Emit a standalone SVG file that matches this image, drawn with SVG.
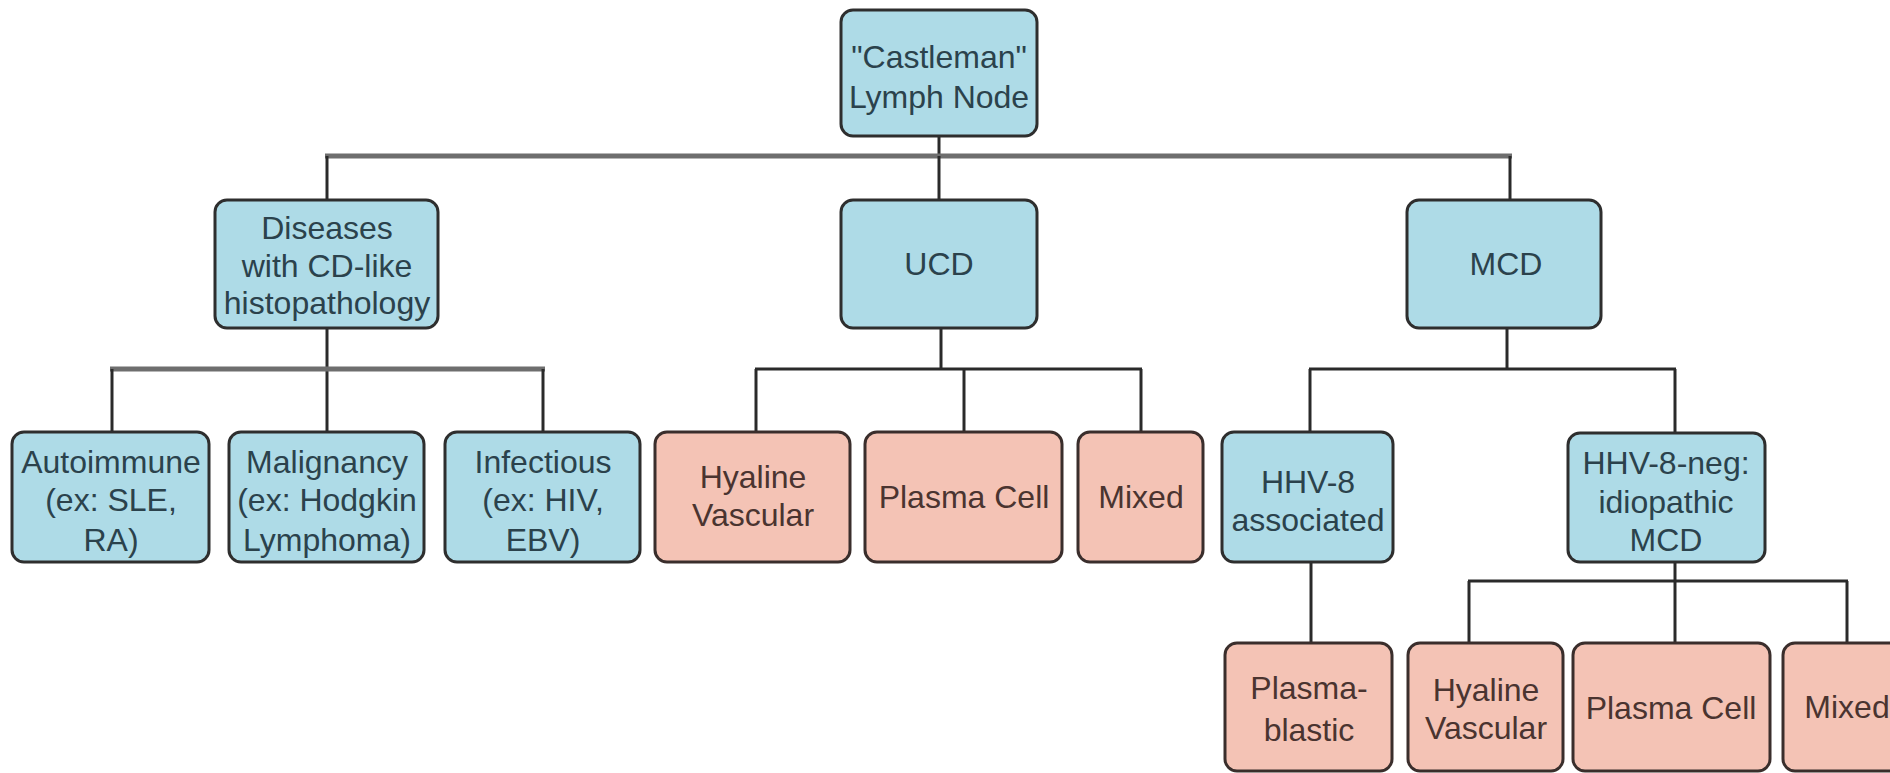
<svg xmlns="http://www.w3.org/2000/svg" width="1890" height="773" viewBox="0 0 1890 773">
<style>
  .blue rect { fill: #aedbe7; stroke: #2e2e2e; stroke-width: 3; }
  .pink rect { fill: #f4c3b5; stroke: #3a2e2c; stroke-width: 3; }
  text { font-family: "Liberation Sans", Arial, sans-serif; font-size: 32px; text-anchor: middle; }
  .blue text { fill: #2b424c; }
  .pink text { fill: #4a3430; }
  .conn line { stroke: #2a2a2a; stroke-width: 3; }
  .conn line.thick { stroke: #6e6e6e; stroke-width: 5; }
</style>
<rect width="1890" height="773" fill="#ffffff"/>
<g id="connectors" class="conn">
  <line x1="939" y1="136" x2="939" y2="156"/>
  <line class="thick" x1="325" y1="156" x2="1512" y2="156"/>
  <line x1="327" y1="156" x2="327" y2="200"/>
  <line x1="939" y1="156" x2="939" y2="200"/>
  <line x1="1510" y1="156" x2="1510" y2="200"/>

  <line x1="327" y1="328" x2="327" y2="432"/>
  <line class="thick" x1="110" y1="369" x2="545" y2="369"/>
  <line x1="112" y1="369" x2="112" y2="432"/>
  <line x1="543" y1="369" x2="543" y2="432"/>

  <line x1="941" y1="328" x2="941" y2="369"/>
  <line x1="755" y1="369" x2="1142" y2="369"/>
  <line x1="756" y1="369" x2="756" y2="432"/>
  <line x1="964" y1="369" x2="964" y2="432"/>
  <line x1="1141" y1="369" x2="1141" y2="432"/>

  <line x1="1507" y1="328" x2="1507" y2="369"/>
  <line x1="1309" y1="369" x2="1676" y2="369"/>
  <line x1="1310" y1="369" x2="1310" y2="432"/>
  <line x1="1675" y1="369" x2="1675" y2="432"/>

  <line x1="1311" y1="562" x2="1311" y2="643"/>

  <line x1="1675" y1="562" x2="1675" y2="643"/>
  <line x1="1468" y1="581" x2="1848" y2="581"/>
  <line x1="1469" y1="581" x2="1469" y2="643"/>
  <line x1="1847" y1="581" x2="1847" y2="643"/>
</g>

<g id="root" class="blue">
  <rect x="841" y="10" width="196" height="126" rx="12"/>
  <text x="939" y="68">"Castleman"</text>
  <text x="939" y="108">Lymph Node</text>
</g>

<g id="diseases" class="blue">
  <rect x="215" y="200" width="223" height="128" rx="12"/>
  <text x="327" y="239">Diseases</text>
  <text x="327" y="277">with CD-like</text>
  <text x="327" y="314">histopathology</text>
</g>
<g id="ucd" class="blue">
  <rect x="841" y="200" width="196" height="128" rx="12"/>
  <text x="939" y="275">UCD</text>
</g>
<g id="mcd" class="blue">
  <rect x="1407" y="200" width="194" height="128" rx="12"/>
  <text x="1506" y="275">MCD</text>
</g>

<g id="autoimmune" class="blue">
  <rect x="12" y="432" width="197" height="130" rx="12"/>
  <text x="111" y="473">Autoimmune</text>
  <text x="111" y="511">(ex: SLE,</text>
  <text x="111" y="551">RA)</text>
</g>
<g id="malignancy" class="blue">
  <rect x="229" y="432" width="195" height="130" rx="12"/>
  <text x="327" y="473">Malignancy</text>
  <text x="327" y="511">(ex: Hodgkin</text>
  <text x="327" y="551">Lymphoma)</text>
</g>
<g id="infectious" class="blue">
  <rect x="445" y="432" width="195" height="130" rx="12"/>
  <text x="543" y="473">Infectious</text>
  <text x="543" y="511">(ex: HIV,</text>
  <text x="543" y="551">EBV)</text>
</g>
<g id="ucd-hyaline" class="pink">
  <rect x="655" y="432" width="195" height="130" rx="12"/>
  <text x="753" y="488">Hyaline</text>
  <text x="753" y="526">Vascular</text>
</g>
<g id="ucd-plasma" class="pink">
  <rect x="865" y="432" width="197" height="130" rx="12"/>
  <text x="964" y="508">Plasma Cell</text>
</g>
<g id="ucd-mixed" class="pink">
  <rect x="1078" y="432" width="125" height="130" rx="12"/>
  <text x="1141" y="508">Mixed</text>
</g>
<g id="hhv8" class="blue">
  <rect x="1222" y="432" width="171" height="130" rx="12"/>
  <text x="1308" y="493">HHV-8</text>
  <text x="1308" y="531">associated</text>
</g>
<g id="hhv8neg" class="blue">
  <rect x="1568" y="433" width="197" height="129" rx="12"/>
  <text x="1666" y="474">HHV-8-neg:</text>
  <text x="1666" y="513">idiopathic</text>
  <text x="1666" y="551">MCD</text>
</g>

<g id="plasmablastic" class="pink">
  <rect x="1225" y="643" width="167" height="128" rx="12"/>
  <text x="1309" y="699">Plasma-</text>
  <text x="1309" y="741">blastic</text>
</g>
<g id="mcd-hyaline" class="pink">
  <rect x="1408" y="643" width="155" height="128" rx="12"/>
  <text x="1486" y="701">Hyaline</text>
  <text x="1486" y="739">Vascular</text>
</g>
<g id="mcd-plasma" class="pink">
  <rect x="1573" y="643" width="197" height="128" rx="12"/>
  <text x="1671" y="719">Plasma Cell</text>
</g>
<g id="mcd-mixed" class="pink">
  <rect x="1783" y="643" width="125" height="128" rx="12"/>
  <text x="1847" y="718">Mixed</text>
</g>
</svg>
